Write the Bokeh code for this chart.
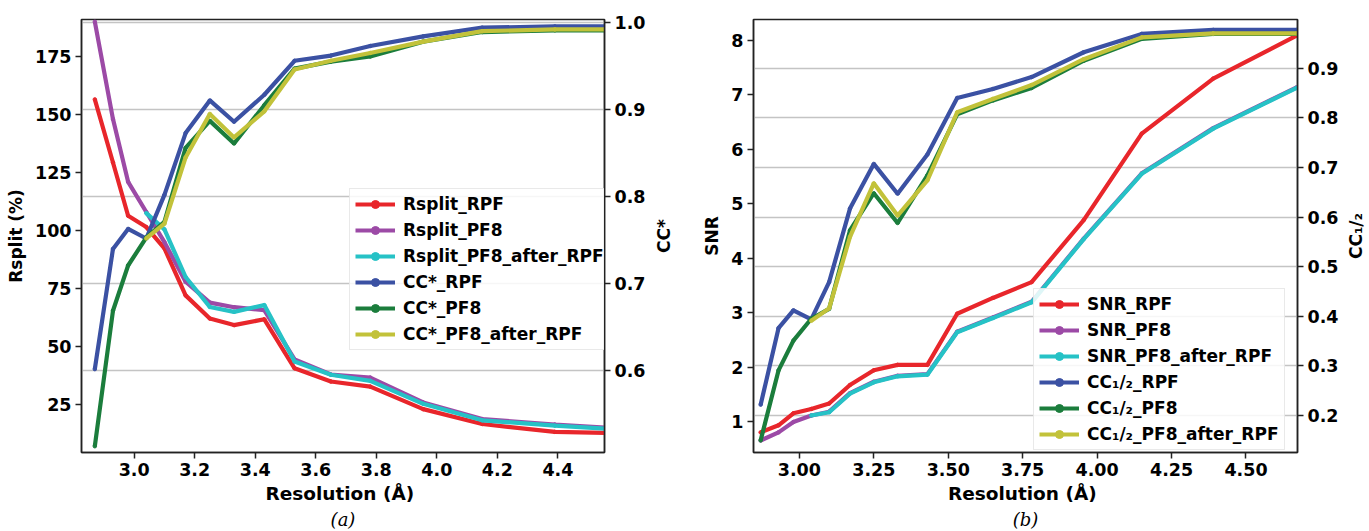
import math
from bokeh.plotting import figure
from bokeh.models import (Range1d, LinearAxis, FixedTicker, Grid, Legend, LegendItem, Title,
                          PrintfTickFormatter, Label)
from bokeh.layouts import row
from bokeh.embed import file_html
from bokeh.resources import INLINE

nan = float("nan")

# ---------------- data ----------------
resolution = [2.87, 2.93, 2.98, 3.04, 3.10, 3.17, 3.25, 3.33, 3.43, 3.53, 3.65, 3.78, 3.955, 4.15, 4.39, 4.67]

# panel (a)
rsplit_rpf = [156.5, 129.3, 106.4, 101.5, 92.3, 72.1, 62.1, 59.3, 61.8, 40.7, 35.0, 32.8, 23.1, 16.7, 13.3, 12.6]
rsplit_pf8 = [190.0, 148.0, 121.0, 108.0, 95.0, 78.0, 69.0, 67.0, 65.7, 44.5, 38.0, 36.7, 26.0, 18.8, 16.5, 14.3]
rsplit_pf8_after_rpf = [nan, nan, nan, 107.5, 100.5, 80.0, 67.1, 65.0, 67.9, 43.6, 37.9, 35.3, 25.4, 18.3, 16.0, 13.8]
ccstar_rpf = [0.602, 0.740, 0.763, 0.752, 0.802, 0.873, 0.9105, 0.886, 0.917, 0.956, 0.962, 0.973, 0.984, 0.994, 0.9954, 0.9954]
ccstar_pf8 = [0.5135, 0.669, 0.721, 0.753, 0.771, 0.856, 0.887, 0.861, 0.905, 0.947, 0.955, 0.961, 0.978, 0.989, 0.991, 0.991]
ccstar_pf8_after_rpf = [nan, nan, nan, 0.752, 0.769, 0.845, 0.895, 0.868, 0.898, 0.946, 0.956, 0.965, 0.978, 0.990, 0.992, 0.992]

# panel (b)
snr_rpf = [0.80, 0.93, 1.15, 1.23, 1.33, 1.67, 1.94, 2.04, 2.04, 2.98, 3.27, 3.56, 4.70, 6.29, 7.30, 8.09]
snr_pf8 = [0.65, 0.80, 0.99, 1.11, 1.18, 1.52, 1.73, 1.84, 1.87, 2.65, 2.91, 3.20, 4.36, 5.56, 6.39, 7.14]
snr_pf8_after_rpf = [nan, nan, nan, 1.11, 1.17, 1.51, 1.72, 1.83, 1.86, 2.64, 2.90, 3.19, 4.35, 5.55, 6.38, 7.13]
cchalf_rpf = [0.222, 0.376, 0.412, 0.394, 0.469, 0.617, 0.707, 0.647, 0.726, 0.840, 0.858, 0.882, 0.932, 0.969, 0.977, 0.977]
cchalf_pf8 = [0.150, 0.291, 0.351, 0.395, 0.415, 0.573, 0.648, 0.588, 0.684, 0.807, 0.835, 0.860, 0.915, 0.959, 0.969, 0.969]
cchalf_pf8_after_rpf = [nan, nan, nan, 0.391, 0.416, 0.560, 0.668, 0.603, 0.674, 0.811, 0.838, 0.866, 0.918, 0.962, 0.970, 0.970]

labels_a = ["Rsplit_RPF", "Rsplit_PF8", "Rsplit_PF8_after_RPF", "CC*_RPF", "CC*_PF8", "CC*_PF8_after_RPF"]
labels_b = ["SNR_RPF", "SNR_PF8", "SNR_PF8_after_RPF", "CC\u2081/\u2082_RPF", "CC\u2081/\u2082_PF8", "CC\u2081/\u2082_PF8_after_RPF"]

ticks_a_left = [25, 50, 75, 100, 125, 150, 175]
ticks_a_right = [0.6, 0.7, 0.8, 0.9, 1.0]
ticks_a_x = [3.0, 3.2, 3.4, 3.6, 3.8, 4.0, 4.2, 4.4]
ticks_b_left = [1, 2, 3, 4, 5, 6, 7, 8]
ticks_b_right = [0.2, 0.3, 0.4, 0.5, 0.6, 0.7, 0.8, 0.9]
ticks_b_x = [3.0, 3.25, 3.5, 3.75, 4.0, 4.25, 4.5]

colors = ["#e8262b", "#9c4aa6", "#26c2c6", "#3b51a3", "#1b7d3c", "#c2c23a"]

FONT = "DejaVu Sans"


def style_axis(ax, ticks, fmt):
    ax.ticker = FixedTicker(ticks=ticks)
    ax.formatter = PrintfTickFormatter(format=fmt)
    ax.axis_line_color = "#222222"
    ax.axis_line_width = 1.5
    ax.major_tick_line_color = "#222222"
    ax.major_tick_line_width = 1.5
    ax.major_tick_out = 6
    ax.major_tick_in = 0
    ax.minor_tick_line_color = None
    ax.major_label_text_font = FONT
    ax.major_label_text_font_style = "bold"
    ax.major_label_text_font_size = "17.5px"
    ax.major_label_text_color = "black"
    ax.major_label_standoff = 4
    ax.axis_label_text_font = FONT
    ax.axis_label_text_font_style = "bold"
    ax.axis_label_text_font_size = "17px"
    ax.axis_label_text_color = "black"
    ax.axis_label_standoff = 6


def make_panel(width, borders, xr, yl, yr, ticks_x, ticks_l, ticks_r, fmts, xlabel, ylabel,
               series_l, series_r, labels, legend_loc, caption):
    p = figure(width=width, height=531, x_range=Range1d(*xr), y_range=Range1d(*yl),
               output_backend="svg", toolbar_location=None,
               min_border_left=borders[0], min_border_right=borders[1],
               min_border_top=borders[2], min_border_bottom=borders[3])
    p.extra_y_ranges = {"r": Range1d(*yr)}
    p.xgrid.visible = False
    p.ygrid.visible = False
    p.outline_line_color = "#222222"
    p.outline_line_width = 1.5
    p.outline_line_alpha = 1.0
    p.background_fill_color = "white"
    p.border_fill_color = "white"

    style_axis(p.xaxis[0], ticks_x, fmts[0])
    p.xaxis[0].axis_label = xlabel
    p.xaxis[0].axis_label_text_font_size = "18.5px"
    p.xaxis[0].axis_label_standoff = 4
    style_axis(p.yaxis[0], ticks_l, fmts[1])
    p.yaxis[0].axis_label = ylabel

    rax = LinearAxis(y_range_name="r")
    style_axis(rax, ticks_r, fmts[2])
    p.add_layout(rax, "right")

    grid = Grid(dimension=1, ticker=FixedTicker(ticks=ticks_r), y_range_name="r",
                grid_line_color="#c4c4c4", grid_line_width=1.5)
    p.add_layout(grid)

    items = []
    k = 0
    for ys in series_l:
        rl = p.line(resolution, ys, line_width=4.2, color=colors[k])
        rs = p.scatter(resolution, ys, size=3.5, color=colors[k])
        items.append(LegendItem(label=labels[k], renderers=[rl, rs]))
        k += 1
    for ys in series_r:
        rl = p.line(resolution, ys, line_width=4.2, color=colors[k], y_range_name="r")
        rs = p.scatter(resolution, ys, size=3.5, color=colors[k], y_range_name="r")
        items.append(LegendItem(label=labels[k], renderers=[rl, rs]))
        k += 1

    legend = Legend(items=items, location=legend_loc,
                    label_text_font=FONT, label_text_font_style="bold",
                    label_text_font_size="17px", label_text_color="black",
                    glyph_width=40, glyph_height=20, label_height=20, label_standoff=8,
                    spacing=6, padding=5, margin=0,
                    border_line_color="#d4d4d4", border_line_width=1.2,
                    background_fill_color="white", background_fill_alpha=0.85)
    p.add_layout(legend)

    cap = Title(text=caption, align="center", text_font="DejaVu Serif",
                text_font_style="italic", text_font_size="18px", text_color="black", standoff=0)
    p.add_layout(cap, "below")
    return p


def title_strip(width, top, bottom, text):
    # narrow strip that carries the right-hand axis title, reading bottom-to-top
    s = figure(width=width, height=531, x_range=Range1d(0, 1), y_range=Range1d(0, 1),
               output_backend="svg", toolbar_location=None,
               x_axis_type=None, y_axis_type=None,
               min_border_left=0, min_border_right=0, min_border_top=top, min_border_bottom=bottom)
    s.outline_line_color = None
    s.background_fill_color = "white"
    s.border_fill_color = "white"
    s.add_layout(Label(x=0.5, y=0.5, text=text, angle=math.pi / 2,
                       text_align="center", text_baseline="middle",
                       text_font=FONT, text_font_style="bold", text_font_size="17px",
                       text_color="black"))
    return s


pa = make_panel(648, (81, 40, 18, 78), (2.826, 4.554), (4.43, 190.9), (0.5063, 1.0034),
                ticks_a_x, ticks_a_left, ticks_a_right, ("%.1f", "%d", "%.1f"),
                "Resolution  (\u00c5)", "Rsplit (%)",
                [rsplit_rpf, rsplit_pf8, rsplit_pf8_after_rpf],
                [ccstar_rpf, ccstar_pf8, ccstar_pf8_after_rpf],
                labels_a, (268, 102), "(a)")
sa = title_strip(30, 18, 78, "CC*")

pb = make_panel(663, (75, 40, 19, 79), (2.846, 4.673), (0.43, 8.386), (0.1256, 0.998),
                ticks_b_x, ticks_b_left, ticks_b_right, ("%.2f", "%d", "%.1f"),
                "Resolution  (\u00c5)", "SNR",
                [snr_rpf, snr_pf8, snr_pf8_after_rpf],
                [cchalf_rpf, cchalf_pf8, cchalf_pf8_after_rpf],
                labels_b, (280, 2), "(b)")
sb = title_strip(28, 19, 79, "CC\u2081/\u2082")

layout = row(pa, sa, pb, sb)
open("out.html", "w").write(file_html(layout, INLINE))
